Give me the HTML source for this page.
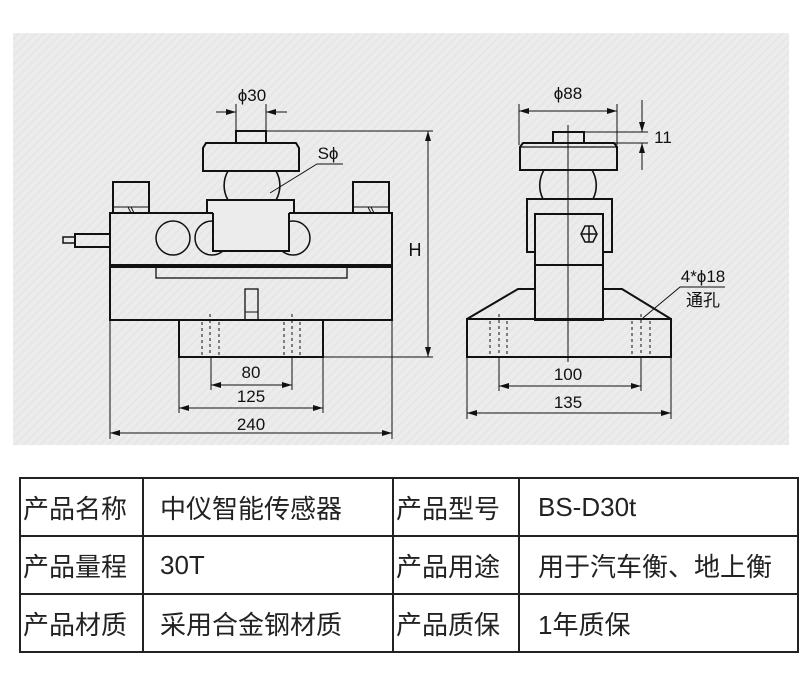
<!DOCTYPE html>
<html><head><meta charset="utf-8">
<style>
html,body{margin:0;padding:0;background:#fff;}
body{width:807px;height:697px;position:relative;overflow:hidden;font-family:"Liberation Sans","Noto Sans CJK SC",sans-serif;}
svg{position:absolute;left:0;top:0;}
table{position:absolute;left:19px;top:477px;border-collapse:collapse;table-layout:fixed;width:778px;}
td{border:2px solid #222;height:58px;box-sizing:border-box;padding:0;font-size:26px;color:#222;font-family:"Liberation Sans","Noto Sans CJK SC",sans-serif;vertical-align:middle;white-space:nowrap;overflow:hidden;}
</style></head><body>
<svg width="807" height="697" viewBox="0 0 807 697">
<defs>
<pattern id="hat" width="6" height="6" patternUnits="userSpaceOnUse" patternTransform="rotate(45)">
<rect width="6" height="6" fill="#ececec"/><rect width="2" height="6" fill="#e6e6e6"/>
</pattern>
<marker id="ar" viewBox="0 0 10 6" refX="10" refY="3" markerWidth="10" markerHeight="6" orient="auto-start-reverse" markerUnits="userSpaceOnUse"><path d="M0,0L10,3L0,6z" fill="#111"/></marker>
</defs>
<rect x="13" y="33" width="776" height="412" fill="url(#hat)"/>
<g fill="none" stroke="#111" stroke-width="2">
<rect x="236" y="131" width="30" height="12"/>
<path d="M206,143 L296,143 L299,148 L299,171 L203,171 L203,148 Z"/>
<path d="M228,171 A29,29 0 0 0 228,200 M276,171 A29,29 0 0 1 276,200" stroke-width="1.6"/>
<rect x="113" y="182" width="36" height="31"/>
<rect x="353" y="182" width="36" height="31"/>
<line x1="113" y1="207" x2="149" y2="207" stroke-width="1"/>
<line x1="353" y1="207" x2="389" y2="207" stroke-width="1"/>
<line x1="128" y1="207" x2="131" y2="213" stroke-width="1"/>
<line x1="131" y1="207" x2="134" y2="213" stroke-width="1"/>
<line x1="368" y1="207" x2="371" y2="213" stroke-width="1"/>
<line x1="371" y1="207" x2="374" y2="213" stroke-width="1"/>
<rect x="110" y="213" width="282" height="52"/>
<circle cx="173" cy="238" r="17" stroke-width="1.5"/>
<circle cx="212" cy="238" r="17" stroke-width="1.5"/>
<circle cx="293" cy="238" r="17" stroke-width="1.5"/>
<rect x="207" y="200" width="87" height="13" fill="#ececec"/>
<rect x="213" y="206" width="76" height="45" fill="#ececec" stroke="none"/>
<path d="M213,213 L213,251 L289,251 L289,213"/>
<rect x="75" y="234" width="35" height="13"/>
<rect x="63" y="237" width="12" height="6" stroke-width="1.5"/>
<rect x="110" y="267" width="282" height="53"/>
<rect x="156" y="267" width="191" height="11" stroke-width="1.3"/>
<rect x="245" y="289" width="13" height="31" stroke-width="1.3"/>
<line x1="245" y1="312" x2="258" y2="312" stroke-width="1"/>
<rect x="179" y="320" width="144" height="37"/>
<g stroke-width="1" stroke-dasharray="3,3">
<line x1="202" y1="322" x2="202" y2="356"/><line x1="210" y1="314" x2="210" y2="356"/><line x1="219" y1="322" x2="219" y2="356"/>
<line x1="284" y1="322" x2="284" y2="356"/><line x1="292" y1="314" x2="292" y2="356"/><line x1="300" y1="322" x2="300" y2="356"/>
</g>
<g stroke-width="1">
<line x1="236" y1="104" x2="236" y2="131"/><line x1="266" y1="104" x2="266" y2="131"/>
<line x1="216" y1="112" x2="236" y2="112" marker-end="url(#ar)"/><line x1="287" y1="112" x2="266" y2="112" marker-end="url(#ar)"/>
<line x1="266" y1="131" x2="433" y2="131"/><line x1="323" y1="357" x2="433" y2="357"/>
<line x1="428" y1="131" x2="428" y2="357" marker-start="url(#ar)" marker-end="url(#ar)"/>
<line x1="211" y1="357" x2="211" y2="390"/><line x1="292" y1="357" x2="292" y2="390"/>
<line x1="211" y1="385" x2="292" y2="385" marker-start="url(#ar)" marker-end="url(#ar)"/>
<line x1="179" y1="357" x2="179" y2="413"/><line x1="323" y1="357" x2="323" y2="413"/>
<line x1="179" y1="408" x2="323" y2="408" marker-start="url(#ar)" marker-end="url(#ar)"/>
<line x1="110" y1="320" x2="110" y2="439"/><line x1="392" y1="320" x2="392" y2="439"/>
<line x1="110" y1="433" x2="392" y2="433" marker-start="url(#ar)" marker-end="url(#ar)"/>
<polyline points="270,193 317,164 343,164"/>
</g>
<rect x="553" y="132" width="31" height="11"/>
<path d="M523,143 L614,143 L617,147 L617,170 L520,170 L520,147 Z"/>
<line x1="520" y1="147" x2="617" y2="147" stroke-width="1.3"/>
<path d="M544,170 A30,30 0 0 0 543,199 M592,170 A30,30 0 0 1 593,199" stroke-width="1.6"/>
<path d="M535,252 L527,252 L527,199 L612,199 L612,252 L603,252"/>
<rect x="535" y="214" width="68" height="106"/>
<line x1="535" y1="265" x2="603" y2="265"/>
<polygon points="585,226 593,226 597,234 593,242 585,242 581,234" stroke-width="1.5"/>
<line x1="581" y1="234" x2="597" y2="234" stroke-width="1.5"/><line x1="589" y1="226" x2="589" y2="242" stroke-width="1.5"/>
<path d="M535,289 L518,289 L467,319 M603,289 L622,289 L671,319"/>
<rect x="467" y="319" width="204" height="38"/>
<g stroke-width="1" stroke-dasharray="3,3">
<line x1="490" y1="321" x2="490" y2="356"/><line x1="499" y1="314" x2="499" y2="356"/><line x1="507" y1="321" x2="507" y2="356"/>
<line x1="632" y1="321" x2="632" y2="356"/><line x1="641" y1="314" x2="641" y2="356"/><line x1="650" y1="321" x2="650" y2="356"/>
</g>
<g stroke-width="1">
<line x1="568" y1="125" x2="568" y2="362"/>
<line x1="519" y1="104" x2="519" y2="145"/><line x1="617" y1="104" x2="617" y2="145"/>
<line x1="519" y1="111" x2="617" y2="111" marker-start="url(#ar)" marker-end="url(#ar)"/>
<line x1="584" y1="132" x2="648" y2="132"/><line x1="615" y1="143" x2="648" y2="143"/>
<line x1="642" y1="100" x2="642" y2="132" marker-end="url(#ar)"/>
<line x1="642" y1="170" x2="642" y2="143" marker-end="url(#ar)"/>
<line x1="499" y1="357" x2="499" y2="391"/><line x1="641" y1="357" x2="641" y2="391"/>
<line x1="499" y1="386" x2="641" y2="386" marker-start="url(#ar)" marker-end="url(#ar)"/>
<line x1="467" y1="357" x2="467" y2="419"/><line x1="671" y1="357" x2="671" y2="419"/>
<line x1="467" y1="413" x2="671" y2="413" marker-start="url(#ar)" marker-end="url(#ar)"/>
<polyline points="643,318 680,287 725,287"/>
</g>
</g>
<g fill="#111" font-family="Liberation Sans, sans-serif" font-size="17" text-anchor="middle">
<text x="252" y="101">ϕ30</text>
<text x="328" y="159">Sϕ</text>
<text x="415" y="256" font-size="18">H</text>
<text x="251" y="378">80</text>
<text x="251" y="402">125</text>
<text x="251" y="430">240</text>
<text x="568" y="99">ϕ88</text>
<text x="663" y="143">11</text>
<text x="568" y="380">100</text>
<text x="568" y="408">135</text>
<text x="703" y="282">4*ϕ18</text>
<text x="703" y="306" font-family="Liberation Sans, Noto Sans CJK SC, sans-serif">通孔</text>
</g>
</svg>
<table>
<colgroup><col style="width:123px"><col style="width:250px"><col style="width:126px"><col style="width:279px"></colgroup>
<tr><td style="padding-left:2px">产品名称</td><td style="padding-left:16px">中仪智能传感器</td><td style="padding-left:2px">产品型号</td><td style="padding-left:18px">BS-D30t</td></tr>
<tr><td style="padding-left:2px">产品量程</td><td style="padding-left:16px">30T</td><td style="padding-left:2px">产品用途</td><td style="padding-left:18px">用于汽车衡、地上衡</td></tr>
<tr><td style="height:56px;padding-left:2px">产品材质</td><td style="padding-left:16px">采用合金钢材质</td><td style="padding-left:2px">产品质保</td><td style="padding-left:18px">1年质保</td></tr>
</table>
</body></html>
